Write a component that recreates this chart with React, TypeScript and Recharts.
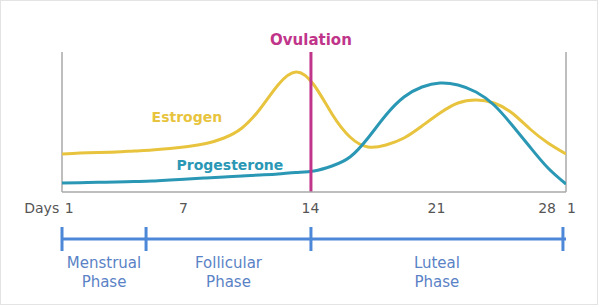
import { ComposedChart, Line, XAxis, YAxis, ReferenceLine, ReferenceDot } from 'recharts';

// day index across the cycle (0 = start of day 1)
const days = [0, 1, 2, 3, 4, 5, 6, 7, 8, 9, 10, 11, 12, 13, 14, 15, 16, 17, 18, 19, 20, 21, 22, 23, 24, 25, 26, 27, 28];
// relative hormone levels
const estrogen = [38, 39, 39.5, 40, 41, 42, 43.5, 45.5, 48.5, 54, 64, 83, 107, 120, 107, 78, 55, 45, 47, 54, 66, 79, 89, 92, 89, 79, 63, 49, 38];
const progesterone = [9, 9.3, 9.7, 10, 10.5, 11, 12, 13, 14, 15, 16, 17, 18, 19.5, 21, 26, 35, 54, 77, 95, 105, 109, 107, 100, 87, 67, 45, 24, 8];

const dayTickPos = [0.4, 6.75, 13.8, 20.8, 26.95, 28.3];
const dayTickLabels = ['1', '7', '14', '21', '28', '1'];
const dayAxisName = 'Days';

const phaseNames = ['Menstrual', 'Follicular', 'Luteal'];
const phaseBounds = [0, 4.67, 13.83, 27.83];
const ovulationDay = 13.83;

const FONT = '"DejaVu Sans", sans-serif';
const ESTROGEN = '#e8c43e';
const PROGESTERONE = '#2a97b5';
const OVULATION = '#c0358a';
const PHASE = '#4d87d8';
const PHASE_TEXT = '#5a82c6';
const AXIS_TEXT = '#555';
const BORDER = '#a8a8a8';

const data = days.map((d, i) => ({ day: d, estrogen: estrogen[i], progesterone: progesterone[i] }));

const phaseMids = phaseNames.map((_, i) => (phaseBounds[i] + phaseBounds[i + 1]) / 2);

const DayTick = (props: any) => {
  const { x, y, payload, index } = props;
  const label = dayTickLabels[dayTickPos.indexOf(payload.value)];
  return (
    <g fontFamily={FONT} fontSize={14} fill={AXIS_TEXT}>
      {index === 0 && (
        <text x={x - 10} y={y} dy="0.71em" textAnchor="end">{dayAxisName}</text>
      )}
      <text x={x} y={y} dy="0.71em" textAnchor="middle">{label}</text>
    </g>
  );
};

const PhaseTick = (props: any) => {
  const { x, y, payload } = props;
  const mid = phaseMids.indexOf(payload.value);
  if (mid >= 0) {
    return (
      <g fontFamily={FONT} fontSize={15} fill={PHASE_TEXT} textAnchor="middle">
        <text x={x} y={y + 28.5}>{phaseNames[mid]}</text>
        <text x={x} y={y + 47.5}>Phase</text>
      </g>
    );
  }
  return <line x1={x} x2={x} y1={y - 12} y2={y + 12} stroke={PHASE} strokeWidth={3} />;
};

export default function App() {
  return (
    <div style={{ position: 'absolute', left: 0, top: 0, width: 598, height: 305, background: '#fff', boxShadow: 'inset 0 0 0 1px #e3e3e3' }}>
      <ComposedChart width={598} height={305} data={data} margin={{ top: 52, right: 32, bottom: 0, left: 62 }}>
        <XAxis
          xAxisId="days"
          dataKey="day"
          type="number"
          domain={[0, 28]}
          allowDataOverflow
          ticks={dayTickPos}
          interval={0}
          height={47}
          axisLine={{ stroke: BORDER, strokeWidth: 1.5 }}
          tickLine={false}
          tickSize={0}
          tickMargin={11}
          tick={<DayTick />}
        />
        <XAxis
          xAxisId="phase"
          type="number"
          domain={[0, 28]}
          allowDataOverflow
          ticks={[...phaseBounds, ...phaseMids]}
          interval={0}
          height={66}
          axisLine={{ stroke: PHASE, strokeWidth: 3 }}
          tickLine={false}
          tickSize={0}
          tickMargin={0}
          tick={<PhaseTick />}
        />
        <YAxis yAxisId="left" domain={[0, 140]} hide />
        <ReferenceLine xAxisId="days" yAxisId="left" x={0} stroke={BORDER} strokeWidth={1.5} />
        <ReferenceLine xAxisId="days" yAxisId="left" x={28} stroke={BORDER} strokeWidth={1.5} />
        <Line xAxisId="days" yAxisId="left" type="natural" dataKey="estrogen" stroke={ESTROGEN} strokeWidth={3} dot={false} isAnimationActive={false} />
        <Line xAxisId="days" yAxisId="left" type="natural" dataKey="progesterone" stroke={PROGESTERONE} strokeWidth={3} dot={false} isAnimationActive={false} />
        <ReferenceLine
          xAxisId="days"
          yAxisId="left"
          x={ovulationDay}
          stroke={OVULATION}
          strokeWidth={3}
          label={{ value: 'Ovulation', position: 'top', offset: 7, fill: OVULATION, fontSize: 15, fontWeight: 'bold', fontFamily: FONT }}
        />
        <ReferenceDot
          xAxisId="days"
          yAxisId="left"
          x={6.94}
          y={75}
          r={1}
          fill="none"
          stroke="none"
          label={{ value: 'Estrogen', position: 'center', fill: ESTROGEN, fontSize: 14, fontWeight: 'bold', fontFamily: FONT }}
        />
        <ReferenceDot
          xAxisId="days"
          yAxisId="left"
          x={9.33}
          y={27}
          r={1}
          fill="none"
          stroke="none"
          label={{ value: 'Progesterone', position: 'center', fill: PROGESTERONE, fontSize: 14, fontWeight: 'bold', fontFamily: FONT }}
        />
      </ComposedChart>
    </div>
  );
}
